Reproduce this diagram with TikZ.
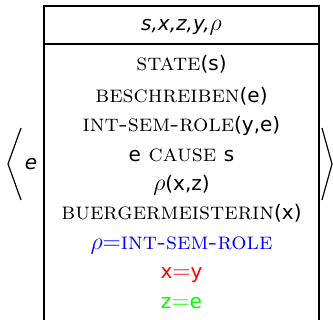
\documentclass[tikz,border=0pt]{standalone}
\usepackage{fontspec}
\newfontfamily\varfont[Scale=0.8333]{DejaVu Sans}
\begin{document}
\begin{tikzpicture}[x=0.5pt,y=-0.5pt,node distance=14.7pt]
        \tikzstyle{ligne} = [font=\large, text height=8pt, text depth=3pt, inner sep=0pt, align=center]
        \tikzstyle{cadre} = [line width=0.8pt]
        \tikzstyle{chevron} = [line width=0.6pt]
        \useasboundingbox (0,0) rectangle (333,320);
        \node (entete) [ligne] at (181.5,26) {{\varfont\itshape s,x,z,y,}$\rho$};
        \node (state) [ligne] at (181.5,66) {\textsc{state}{\varfont(s)}};
        \node (beschreiben) [ligne, below of=state, yshift=-1pt] {\textsc{beschreiben}{\varfont(e)}};
        \node (int_sem_role) [ligne, below of=beschreiben] {\textsc{int-sem-role}{\varfont(y,e)}};
        \node (cause) [ligne, below of=int_sem_role] {{\varfont e} \textsc{cause} {\varfont s}};
        \node (rho_xz) [ligne, below of=cause] {$\rho${\varfont(x,z)}};
        \node (buergermeisterin) [ligne, below of=rho_xz] {\textsc{buergermeisterin}{\varfont(x)}};
        \node (rho_egal) [ligne, below of=buergermeisterin, text=blue] {$\rho$=\textsc{int-sem-role}};
        \node (x_egal_y) [ligne, below of=rho_egal, text=red] {{\varfont x}$=${\varfont y}};
        \node (z_egal_e) [ligne, below of=x_egal_y, text=green] {{\varfont z}$=${\varfont e}};
        \node (evt) [ligne] at (31,165) {{\varfont\itshape e}};
        % boite
        \draw[cadre] (44,330) |- (319,6) -- (319,330);
        \draw[cadre] (44,44) -- (319,44);
        % chevrons
        \draw[chevron] (21,128) -- (8,164) -- (21,200);
        \draw[chevron] (322,128) -- (332,164) -- (322,200);
\end{tikzpicture}
\end{document}
